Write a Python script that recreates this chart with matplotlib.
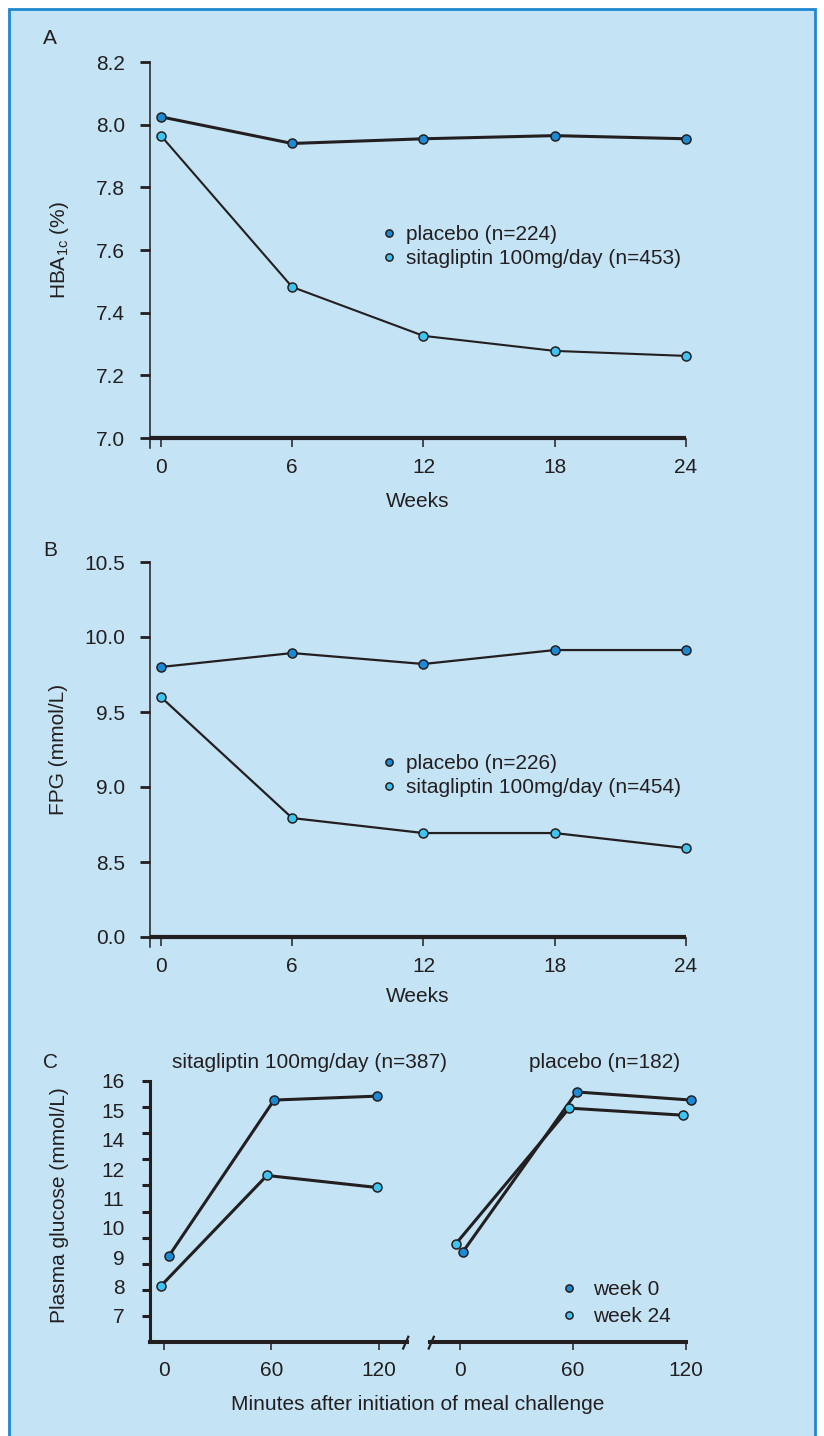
import matplotlib
matplotlib.use('Agg')
import matplotlib.pyplot as plt
from matplotlib.lines import Line2D
from matplotlib.patches import Rectangle

plt.rcParams['font.family'] = ['Liberation Sans', 'DejaVu Sans']
plt.rcParams['mathtext.fontset'] = 'custom'
plt.rcParams['mathtext.rm'] = 'Liberation Sans'
plt.rcParams['mathtext.it'] = 'Liberation Sans:italic'

# ---------------- data ----------------
weeks = [0, 6, 12, 18, 24]
week_ticks = [0, 6, 12, 18, 24]

hba1c_placebo = [8.025, 7.94, 7.955, 7.965, 7.955]
hba1c_sita = [7.965, 7.482, 7.326, 7.278, 7.262]
hba1c_ticks = [7.0, 7.2, 7.4, 7.6, 7.8, 8.0, 8.2]
hba1c_ticklabels = ['7.0', '7.2', '7.4', '7.6', '7.8', '8.0', '8.2']

fpg_placebo = [9.80, 9.893, 9.82, 9.913, 9.913]
fpg_sita = [9.60, 8.793, 8.693, 8.693, 8.593]
fpg_ticks = [8.0, 8.5, 9.0, 9.5, 10.0, 10.5]
fpg_ticklabels = ['0.0', '8.5', '9.0', '9.5', '10.0', '10.5']

legend_a = ['placebo (n=224)', 'sitagliptin 100mg/day (n=453)']
legend_b = ['placebo (n=226)', 'sitagliptin 100mg/day (n=454)']

# panel C: minutes (points are slightly staggered)
c_sita_wk0_min = [2.8, 61.5, 119]
c_sita_wk0 = [9.3, 15.27, 15.42]
c_sita_wk24_min = [-1.7, 57.5, 119]
c_sita_wk24 = [8.15, 12.38, 11.92]
c_plac_wk0_min = [1.6, 62, 122.6]
c_plac_wk0 = [9.46, 15.58, 15.27]
c_plac_wk24_min = [-2.1, 58, 118.4]
c_plac_wk24 = [9.77, 14.96, 14.69]
minute_ticks = [0, 60, 120]
glucose_ticks = [7, 8, 9, 10, 11, 12, 13, 14, 15, 16]
glucose_ticklabels = ['16', '15', '14', '12', '11', '10', '9', '8', '7']
c_titles = ['sitagliptin 100mg/day (n=387)', 'placebo (n=182)']
legend_c = ['week 0', 'week 24']

# ---------------- style ----------------
BG = '#C4E3F5'
FRAME = '#1E88D0'
INK = '#231F20'
DARK = '#1A8AD4'
LIGHT = '#3EC4F0'
FS = 15

W, H = 824, 1436
fig = plt.figure(figsize=(W / 100, H / 100), dpi=100)
fig.patch.set_facecolor('white')


def fx(px):
    return px / W


def fy(py):
    return 1 - py / H


def box(l, t, r, b):
    return [fx(l), fy(b), fx(r) - fx(l), fy(t) - fy(b)]


frame = Rectangle((fx(9), -0.02), fx(815) - fx(9), fy(9) + 0.02,
                  transform=fig.transFigure, facecolor=BG,
                  edgecolor=FRAME, lw=2.0, zorder=-5)
fig.patches.append(frame)


def series(ax, x, y, color, lw, ms=6.5):
    ax.plot(x, y, color=INK, lw=lw, marker='o', ms=ms, mfc=color, mec=INK,
            mew=1.1, clip_on=False, zorder=3, solid_capstyle='round')


def style_ab(ax, y0, ticks, labels):
    ax.set_facecolor('none')
    for s in ('top', 'right'):
        ax.spines[s].set_visible(False)
    ax.spines['left'].set_linewidth(1.1)
    ax.spines['left'].set_color(INK)
    ax.spines['bottom'].set_linewidth(3.0)
    ax.spines['bottom'].set_color(INK)
    ax.spines['bottom'].set_position(('data', y0))
    ax.spines['bottom'].set_capstyle('butt')
    ax.set_xlim(-0.52, 24.0)
    ax.set_xticks(week_ticks)
    ax.set_xticklabels([str(w) for w in week_ticks])
    ax.set_yticks(ticks)
    ax.set_yticklabels(labels)
    ax.tick_params(axis='y', length=7.2, width=2.0, pad=10.5, colors=INK,
                   labelsize=FS)
    ax.tick_params(axis='x', length=6.5, width=1.1, pad=8, colors=INK,
                   labelsize=FS)


def legend(ax, labels, x, y, pad=0.4, spacing=0.25):
    handles = [Line2D([], [], ls='none', marker='o', ms=5.2, mfc=c, mec=INK,
                      mew=1.1) for c in (DARK, LIGHT)]
    leg = ax.legend(handles, labels, loc='upper left',
                    bbox_to_anchor=(fx(x), fy(y)),
                    bbox_transform=fig.transFigure, frameon=False,
                    fontsize=FS, handlelength=0.8, handletextpad=pad,
                    labelspacing=spacing, borderpad=0, borderaxespad=0)
    for t in leg.get_texts():
        t.set_color(INK)


# ---------------- panel A ----------------
axA = fig.add_axes(box(149.5, 62, 686, 448))
axA.set_ylim(7.0 - 10 / 313.5, 8.2)
style_ab(axA, 7.0, hba1c_ticks, hba1c_ticklabels)
series(axA, weeks, hba1c_placebo, DARK, 2.2)
series(axA, weeks, hba1c_sita, LIGHT, 1.5)
legend(axA, legend_a, 380.5, 225)
fig.text(fx(50), fy(38), 'A', fontsize=FS, color=INK, ha='center', va='center')
fig.text(fx(60), fy(250), r'HBA$_{\mathregular{1c}}$ (%)', fontsize=FS,
         color=INK, rotation=90, ha='center', va='center')
fig.text(fx(418), fy(501), 'Weeks', fontsize=FS, color=INK, ha='center',
         va='center')

# ---------------- panel B ----------------
axB = fig.add_axes(box(149.5, 562, 686, 947))
axB.set_ylim(8.0 - 10 / 150, 10.5)
style_ab(axB, 8.0, fpg_ticks, fpg_ticklabels)
series(axB, weeks, fpg_placebo, DARK, 1.6)
series(axB, weeks, fpg_sita, LIGHT, 1.6)
legend(axB, legend_b, 380.5, 754)
fig.text(fx(50), fy(550), 'B', fontsize=FS, color=INK, ha='center', va='center')
fig.text(fx(58), fy(749), 'FPG (mmol/L)', fontsize=FS, color=INK,
         rotation=90, ha='center', va='center')
fig.text(fx(418), fy(997), 'Weeks', fontsize=FS, color=INK, ha='center',
         va='center')

# ---------------- panel C ----------------
axC1 = fig.add_axes(box(150, 1081, 407, 1342))
axC2 = fig.add_axes(box(430, 1081, 686, 1342))
axC1.set_xlim(-7.8, 135.7)
axC2.set_xlim(-15.9, 120)
for ax in (axC1, axC2):
    ax.set_facecolor('none')
    ax.set_ylim(6, 16)
    for s in ('top', 'right'):
        ax.spines[s].set_visible(False)
    ax.spines['bottom'].set_linewidth(2.9)
    ax.spines['bottom'].set_color(INK)
    ax.set_xticks(minute_ticks)
    ax.set_xticklabels([str(m) for m in minute_ticks])
    ax.tick_params(axis='x', length=5.5, width=1.1, pad=8, colors=INK,
                   labelsize=FS)
axC2.spines['left'].set_visible(False)
axC2.set_yticks([])
axC1.spines['left'].set_linewidth(2.2)
axC1.spines['left'].set_color(INK)
axC1.set_yticks(glucose_ticks)
axC1.set_yticklabels([''] * len(glucose_ticks))
label_pos = [16 - i * 9 / 8 for i in range(len(glucose_ticklabels))]
axC1.yaxis.remove_overlapping_locs = False
axC1.set_yticks(label_pos, glucose_ticklabels, minor=True)
axC1.tick_params(axis='y', which='major', length=5.8, width=2.2, colors=INK)
axC1.tick_params(axis='y', which='minor', length=0, pad=18.5, colors=INK,
                 labelsize=FS)

series(axC1, c_sita_wk0_min, c_sita_wk0, DARK, 2.2)
series(axC1, c_sita_wk24_min, c_sita_wk24, LIGHT, 2.2)
series(axC2, c_plac_wk0_min, c_plac_wk0, DARK, 2.2)
series(axC2, c_plac_wk24_min, c_plac_wk24, LIGHT, 2.2)

# axis break marks
axC1.plot([0.985, 1.005], [-0.025, 0.02], transform=axC1.transAxes,
          color=INK, lw=1.6, clip_on=False)
axC2.plot([-0.005, 0.015], [-0.025, 0.02], transform=axC2.transAxes,
          color=INK, lw=1.6, clip_on=False)

legend(axC2, legend_c, 561, 1280, pad=0.72, spacing=0.38)
fig.text(fx(50), fy(1062), 'C', fontsize=FS, color=INK, ha='center', va='center')
fig.text(fx(310), fy(1063), c_titles[0], fontsize=FS, color=INK, ha='center',
         va='center')
fig.text(fx(605), fy(1063), c_titles[1], fontsize=FS, color=INK, ha='center',
         va='center')
fig.text(fx(60), fy(1205), 'Plasma glucose (mmol/L)', fontsize=FS, color=INK,
         rotation=90, ha='center', va='center')
fig.text(fx(418), fy(1404), 'Minutes after initiation of meal challenge',
         fontsize=FS, color=INK, ha='center', va='center')

fig.savefig('out.png', dpi=100, facecolor=fig.get_facecolor())
